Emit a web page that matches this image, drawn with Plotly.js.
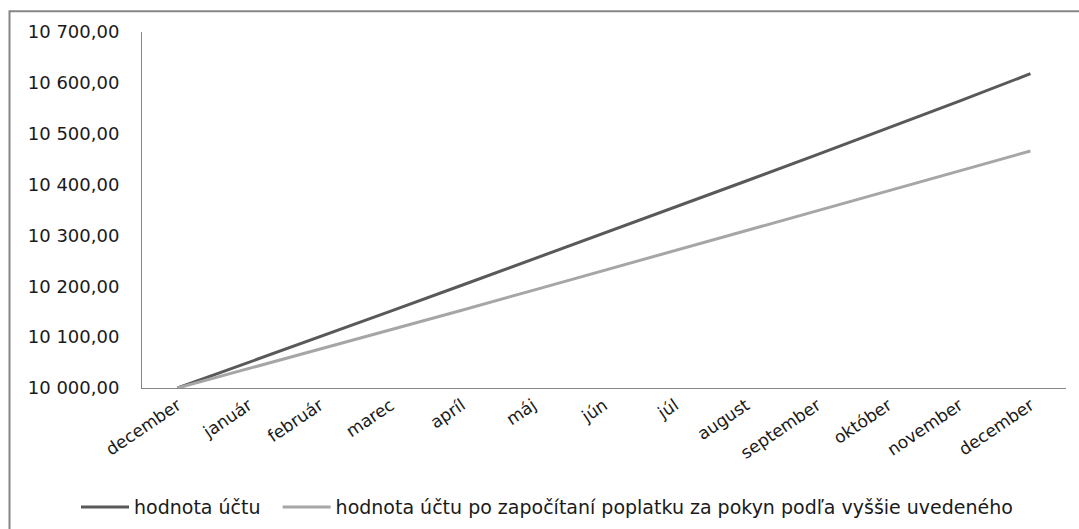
<!DOCTYPE html>
<html>
<head>
<meta charset="utf-8">
<script src="https://cdn.plot.ly/plotly-3.0.1.min.js"></script>
<style>
html,body{margin:0;padding:0;background:#fff;}
#chart{width:1079px;height:529px;}
</style>
</head>
<body>
<div id="chart"></div>
<script>
const months = ["december","január","február","marec","apríl","máj","jún","júl","august","september","október","november","december"];
const hodnotaUctu = [10000, 10050, 10100, 10151, 10202, 10253, 10304, 10355, 10407, 10459, 10511, 10564, 10618];
const hodnotaPoPoplatku = [10000, 10038, 10076, 10115, 10153, 10192, 10231, 10270, 10309, 10348, 10387, 10427, 10466];
const yTicks = [10000, 10100, 10200, 10300, 10400, 10500, 10600, 10700];
const yTickText = ["10 000,00","10 100,00","10 200,00","10 300,00","10 400,00","10 500,00","10 600,00","10 700,00"];
const seriesNames = ["hodnota účtu", "hodnota účtu po započítaní poplatku za pokyn podľa vyššie uvedeného"];

const idx = months.map((m, i) => i);
const font = "DejaVu Sans, sans-serif";
const gap = "\u00a0\u00a0";

const traces = [
  {x: idx, y: hodnotaUctu, type: "scatter", mode: "lines", name: seriesNames[0] + gap,
   line: {color: "#595959", width: 3}},
  {x: idx, y: hodnotaPoPoplatku, type: "scatter", mode: "lines", name: seriesNames[1],
   line: {color: "#A6A6A6", width: 3}}
];

const L = 142, R = 1066, T = 32.3, B = 388;
const W = R - L, H = B - T;
const px = v => (v - L) / W;
const py = v => (B - v) / H;

const layout = {
  width: 1079, height: 529,
  margin: {l: L, r: 1079 - R, t: T, b: 529 - B, autoexpand: false},
  paper_bgcolor: "#fff", plot_bgcolor: "#fff",
  font: {family: font, size: 18, color: "#1a1a1a"},
  showlegend: true,
  xaxis: {
    range: [-0.5, 12.5], tickvals: idx, ticktext: months, tickangle: -34, automargin: false,
    showgrid: false, zeroline: false, showline: true, linecolor: "#868686", linewidth: 1,
    ticks: "", tickfont: {family: font, size: 17, color: "#1a1a1a"}, fixedrange: true
  },
  yaxis: {
    range: [10000, 10700], tickvals: yTicks, ticktext: yTickText, automargin: false,
    showgrid: false, zeroline: false, showline: true, linecolor: "#868686", linewidth: 1,
    ticks: "", ticklabelstandoff: 18, tickfont: {family: font, size: 18, color: "#1a1a1a"}, fixedrange: true
  },
  legend: {
    orientation: "h", x: px(76), xanchor: "left", y: py(507), yanchor: "middle",
    font: {family: font, size: 19, color: "#1a1a1a"}, bgcolor: "rgba(0,0,0,0)",
    itemwidth: 48, tracegroupgap: 0
  },
  shapes: [
    {type: "rect", xref: "paper", yref: "paper", x0: px(9.5), x1: px(1090), y0: py(540), y1: py(11.5),
     line: {color: "#868686", width: 2}, fillcolor: "rgba(0,0,0,0)", layer: "below"}
  ]
};

Plotly.newPlot("chart", traces, layout, {staticPlot: true, displayModeBar: false});
</script>
</body>
</html>
